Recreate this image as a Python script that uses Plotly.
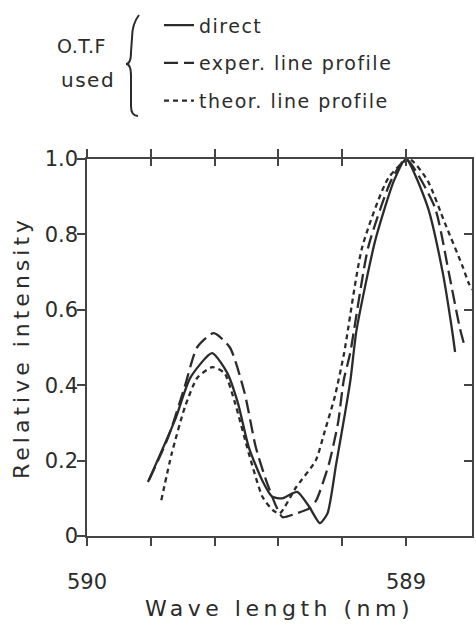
import plotly.graph_objects as go

# ---- data ----
wl_direct = [589.809, 589.724, 589.676, 589.608, 589.560, 589.527, 589.493, 589.451,
             589.419, 589.388, 589.341, 589.303, 589.270, 589.246, 589.219, 589.191,
             589.174, 589.155, 589.096, 589.037, 589.000, 588.932, 588.885, 588.857, 588.846]
int_direct = [0.143, 0.308, 0.420, 0.485, 0.432, 0.353, 0.236, 0.148,
              0.104, 0.100, 0.117, 0.077, 0.034, 0.060, 0.190, 0.326,
              0.414, 0.546, 0.785, 0.944, 1.000, 0.873, 0.700, 0.555, 0.488]

wl_exper = [589.805, 589.745, 589.694, 589.655, 589.603, 589.552, 589.506, 589.471,
            589.439, 589.406, 589.387, 589.343, 589.302, 589.281, 589.242, 589.213,
            589.195, 589.175, 589.118, 589.046, 589.000, 588.910, 588.866, 588.832, 588.815]
int_exper = [0.149, 0.263, 0.395, 0.500, 0.538, 0.500, 0.380, 0.236,
             0.149, 0.077, 0.050, 0.060, 0.074, 0.095, 0.190, 0.300,
             0.414, 0.485, 0.767, 0.944, 1.000, 0.873, 0.700, 0.555, 0.500]

wl_theor = [589.767, 589.734, 589.693, 589.654, 589.607, 589.569, 589.536, 589.493,
            589.450, 589.418, 589.396, 589.344, 589.283, 589.254, 589.223, 589.194,
            589.137, 589.055, 588.990, 588.933, 588.878, 588.822, 588.803, 588.780]
int_theor = [0.095, 0.220, 0.342, 0.420, 0.448, 0.432, 0.353, 0.220,
             0.104, 0.069, 0.060, 0.130, 0.200, 0.280, 0.370, 0.485,
             0.767, 0.950, 1.000, 0.944, 0.830, 0.714, 0.670, 0.640]

series_names = ["direct", "exper. line profile", "theor. line profile"]

x_tickvals = [590.0, 589.8, 589.6, 589.4, 589.2, 589.0]
x_ticktext = ["590", "", "", "", "", "589"]
y_tickvals = [0, 0.2, 0.4, 0.6, 0.8, 1.0]
y_ticktext = ["0", "0.2", "0.4", "0.6", "0.8", "1.0"]

INK = "#2b2b2b"
AX = "#444"
FONT = "DejaVu Sans"
X_RANGE = [590.0, 588.793]
Y_RANGE = [0, 1.0]

def spaced(t, sp):
    return f'<span style="letter-spacing:{sp}px">{t}</span>'

fig = go.Figure()
styles = [("solid", wl_direct, int_direct),
          ("14px,6px", wl_exper, int_exper),
          ("5px,4px", wl_theor, int_theor)]
for i, (dash, xs, ys) in enumerate(styles):
    fig.add_trace(go.Scatter(
        x=xs, y=ys, mode="lines", name=spaced(series_names[i], 1.5),
        legendgroup=f"g{i}",
        line=dict(color=INK, width=2.3, dash=dash, shape="spline", smoothing=0.6),
    ))
# empty trace so that the secondary (top/right) tick axes are drawn
fig.add_trace(go.Scatter(x=[], y=[], xaxis="x2", yaxis="y2", showlegend=False,
                         hoverinfo="skip"))

axis_common = dict(showgrid=False, zeroline=False, linecolor=AX, linewidth=1.5,
                   tickcolor=AX, tickwidth=1.5, ticklen=8, automargin=False,
                   tickfont=dict(family=FONT, size=21, color=INK))
sec_common = dict(showticklabels=False, showgrid=False, zeroline=False, showline=True,
                  linecolor=AX, linewidth=1.5, tickwidth=1.5, tickcolor=AX,
                  automargin=False, ticks="inside")

fig.update_layout(
    width=476, height=625,
    margin=dict(l=87, r=4, t=159, b=89),
    paper_bgcolor="white", plot_bgcolor="white",
    font=dict(family=FONT, color=INK),
    xaxis=dict(range=X_RANGE, tickvals=x_tickvals, ticktext=x_ticktext,
               ticks="outside", mirror="ticks", showline=True,
               ticklabelstandoff=18,
               title=dict(text=spaced("Wave length (nm)", 4.5),
                          font=dict(family=FONT, size=22, color=INK), standoff=8),
               **axis_common),
    yaxis=dict(range=Y_RANGE, tickvals=y_tickvals, ticktext=y_ticktext,
               ticks="outside", mirror=True, showline=True,
               ticklabelstandoff=-5,
               title=dict(text=spaced("Relative intensity", 4.0),
                          font=dict(family=FONT, size=22, color=INK), standoff=9),
               **axis_common),
    xaxis2=dict(overlaying="x", side="top", anchor="y2", range=X_RANGE,
                tickvals=x_tickvals, ticklen=7, **sec_common),
    yaxis2=dict(overlaying="y", side="right", anchor="x2", range=Y_RANGE,
                tickvals=y_tickvals, ticklen=8, **sec_common),
    showlegend=True,
    legend=dict(x=0.187, y=1.405, xanchor="left", yanchor="top",
                bgcolor="rgba(0,0,0,0)", tracegroupgap=10,
                font=dict(family=FONT, size=19, color=INK)),
)

# legend heading and brace
fig.add_annotation(xref="paper", yref="paper", x=(81 - 87) / 385, y=(536 - 46) / 377,
                   text=spaced("O.T.F", 0.5), showarrow=False, xanchor="center", yanchor="middle",
                   font=dict(family=FONT, size=19, color=INK))
fig.add_annotation(xref="paper", yref="paper", x=(88 - 87) / 385, y=(536 - 80) / 377,
                   text=spaced("used", 1.5), showarrow=False, xanchor="center", yanchor="middle",
                   font=dict(family=FONT, size=20, color=INK))

def px2paper(px, py):
    return ((px - 87) / 385, (536 - py) / 377)

pts = [(139, 15), (132, 24), (131, 52), (126, 64), (131, 76), (131, 106), (138, 116)]
p = [px2paper(*q) for q in pts]
path = (f"M {p[0][0]},{p[0][1]} Q {p[1][0]},{p[1][1]} {p[1][0]},{(p[1][1]+p[2][1])/2} "
        f"L {p[2][0]},{p[2][1]} Q {p[2][0]},{p[3][1]} {p[3][0]},{p[3][1]} "
        f"Q {p[4][0]},{p[3][1]} {p[4][0]},{p[4][1]} L {p[5][0]},{p[5][1]} "
        f"Q {p[5][0]},{p[6][1]} {p[6][0]},{p[6][1]}")
fig.add_shape(type="path", xref="paper", yref="paper", path=path,
              line=dict(color=INK, width=2))

fig.write_html("out.html")
